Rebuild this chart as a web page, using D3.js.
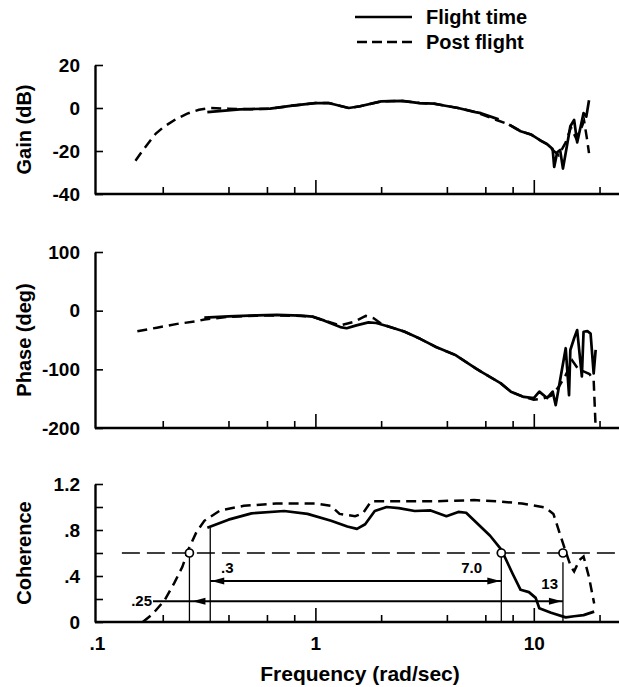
<!DOCTYPE html>
<html>
<head>
<meta charset="utf-8">
<script src="https://cdn.jsdelivr.net/npm/d3@7"></script>
<style>
body{margin:0;background:#fff;}
svg text{font-family:"Liberation Sans",Arial,sans-serif;font-weight:bold;fill:#000;}
</style>
</head>
<body>
<svg id="chart" width="619" height="687"></svg>
<script>
// gain (dB)
const freqGainFlight=[0.32,0.45,0.62,0.8,1.0,1.15,1.42,1.6,2.0,2.5,3.0,3.5,3.76,4.5,5.4,5.73,6.9,7.3,7.7,8.7,9.7,10.8,11.5,12.2,12.4,12.8,13.2,13.6,14.1,14.7,15.3,15.8,16.4,16.9,17.4,17.9];
const gainFlight=[-1.9,-0.6,-0.3,1.2,2.3,2.3,0,0.8,3.1,3.3,2.3,2.0,1.4,0,-1.9,-2.4,-5.3,null,-7.7,-10.8,-12.3,-15.3,-16.8,-19.1,-27.4,-20.6,-19.5,-28.2,-19.1,-8.5,-5.5,-16,-8.5,-2.4,-4,3.6];
const freqGainPost=[0.15,0.16,0.171,0.186,0.202,0.229,0.259,0.293,0.33,0.4,0.5,0.62,0.8,1.0,1.15,1.42,1.6,2.0,2.5,3.0,3.5,4.5,5.4,6.8,7.7,8.7,9.7,10.8,11.5,12.2,13.0,14.0,14.8,15.6,16.4,17.0,17.5,17.9];
const gainPost=[-24.5,-20.5,-16.6,-11.9,-8.8,-5.3,-2.6,-0.8,0,-0.3,-0.6,-0.3,1.2,2.3,2.3,0,0.8,3.1,3.3,2.3,2.0,0,-1.9,-5.7,-7.7,-10.8,-12.3,-15.3,-16.8,-19.5,-22,-16,-9,-14,-10,-6,-14,-21];

// phase (deg)
const freqPhaseFlight=[0.31,0.4,0.54,0.665,0.86,0.97,1.1,1.3,1.39,1.54,1.75,1.9,2.16,2.55,3.02,3.57,4.4,5.4,5.73,6.3,7.07,7.85,9.0,10.0,10.6,11.5,12.2,12.6,13.2,14.0,14.5,14.7,15.3,15.8,16.6,16.9,17.6,18.2,18.8,19.2];
const phaseFlight=[-12,-9.6,-7.9,-7.3,-8.5,-10,-17,-28,-30,-25,-20,-21,-27,-35.5,-48,-62,-76,-98,-104,-113,-124,-138,-147,-149,-138,-149,-138,-161,-118,-64,-144,-67,-47,-33,-112,-36,-35,-39,-107,-67];
const freqPhasePost=[0.153,0.188,0.233,0.287,0.31,0.4,0.54,0.665,0.86,0.97,1.1,1.3,1.5,1.7,1.85,2.0,2.16,2.55,3.02,3.57,4.4,5.4,6.3,7.07,7.85,9.0,10.0,11.0,12.0,13.0,14.0,15.0,16.0,17.0,18.0,18.8,19.2];
const phasePost=[-35,-29,-22.5,-18,-15,-10.5,-8.5,-8,-9,-10.5,-17,-25,-19,-9,-13,-22,-27,-35.5,-48,-62,-76,-98,-113,-124,-138,-147,-152,-150,-145,-130,-110,-85,-100,-104,-108,-118,-200];

// coherence
const freqCohFlight=[0.32,0.4,0.51,0.72,0.92,1.18,1.4,1.55,1.69,1.87,2.12,2.41,2.85,3.37,3.98,4.51,4.9,5.56,6.31,7.1,8.0,8.7,9.5,10.2,10.6,12.0,14.0,15.3,16.9,18.9];
const cohFlight=[0.82,0.89,0.945,0.965,0.94,0.88,0.83,0.81,0.85,0.965,1.0,0.99,0.965,0.97,0.92,0.957,0.95,0.85,0.75,0.63,0.42,0.28,0.26,0.21,0.12,0.08,0.04,0.05,0.06,0.09];
const freqCohPost=[0.162,0.18,0.204,0.226,0.246,0.262,0.285,0.31,0.366,0.47,0.66,1.0,1.18,1.29,1.52,1.65,1.8,2.31,3.51,5.33,6.85,8.83,11.3,12.3,13.1,13.9,14.8,15.3,16.2,16.9,17.9,18.9];
const cohPost=[0,0.07,0.19,0.34,0.48,0.63,0.78,0.88,0.97,1.01,1.03,1.03,1.01,0.94,0.92,0.945,1.05,1.05,1.05,1.06,1.05,1.03,0.995,0.94,0.78,0.63,0.48,0.44,0.54,0.57,0.39,0.16];

// bandwidth markers
const cohLevel=0.6;
const markFreqs=[0.265,0.33,7.1,13.6];
const markLabels=[".25",".3","7.0","13"];

const xMinorTicks=[0.2,0.4,0.6,0.8,2,4,6,8,20];
const xMajorTicks=[1,10];
const xLabels=[0.1,1,10];

const svg=d3.select('#chart');
const x=d3.scaleLog().domain([0.1,25]).range([97,620.7]);
const left=95;

const panels=[
  {title:'Gain (dB)',dom:[-40,20],rng:[194,65],ticks:[-40,-20,0,20],labels:[-40,-20,0,20],
   fx1:freqGainFlight,y1:gainFlight,fx2:freqGainPost,y2:gainPost},
  {title:'Phase (deg)',dom:[-200,100],rng:[428,252],ticks:[-200,-100,0,100],labels:[-200,-100,0,100],
   fx1:freqPhaseFlight,y1:phaseFlight,fx2:freqPhasePost,y2:phasePost},
  {title:'Coherence',dom:[0,1.2],rng:[622,484],ticks:[0,0.2,0.4,0.6,0.8,1.0,1.2],labels:[0,0.4,0.8,1.2],
   fx1:freqCohFlight,y1:cohFlight,fx2:freqCohPost,y2:cohPost}
];

function fmt(d){
  if(d===0) return '0';
  if(Math.abs(d)<1) return String(d).replace('0.','.');
  return String(d);
}

panels.forEach(function(p,i){
  const y=d3.scaleLinear().domain(p.dom).range(p.rng);
  p.y=y;
  const bottom=p.rng[0];

  // x axis line + ticks pointing up
  svg.append('line').attr('x1',left).attr('x2',619).attr('y1',bottom).attr('y2',bottom)
    .attr('stroke','#000').attr('stroke-width',2.4);
  svg.append('g').attr('transform','translate(0,'+bottom+')')
    .call(d3.axisBottom(x).tickValues(xMinorTicks).tickSize(-7).tickSizeOuter(0).tickFormat(''))
    .call(g=>g.select('.domain').remove())
    .selectAll('line').attr('stroke-width',1.6);
  svg.append('g').attr('transform','translate(0,'+bottom+')')
    .call(d3.axisBottom(x).tickValues(xMajorTicks).tickSize(-14).tickSizeOuter(0).tickFormat(''))
    .call(g=>g.select('.domain').remove())
    .selectAll('line').attr('stroke-width',1.6);

  // y axis, ticks inward
  const ya=svg.append('g').attr('transform','translate('+left+',0)')
    .call(d3.axisLeft(y).tickValues(p.ticks).tickSize(-8).tickSizeOuter(0).tickPadding(15)
      .tickFormat(d=>p.labels.indexOf(d)>=0?fmt(d):''));
  ya.select('.domain').attr('stroke-width',2.4);
  ya.selectAll('line').attr('stroke-width',1.6);
  ya.selectAll('text').style('font-size','19px');

  svg.append('text').attr('transform','translate(31,'+((p.rng[0]+p.rng[1])/2)+') rotate(-90)')
    .attr('text-anchor','middle').style('font-size','20px').text(p.title);

  const line=d3.line().defined(d=>d[1]!==null).x(d=>x(d[0])).y(d=>y(d[1]));
  svg.append('path').datum(p.fx2.map((f,k)=>[f,p.y2[k]]))
    .attr('d',line).attr('fill','none').attr('stroke','#000').attr('stroke-width',2.5)
    .attr('stroke-dasharray','10,6');
  svg.append('path').datum(p.fx1.map((f,k)=>[f,p.y1[k]]))
    .attr('d',line).attr('fill','none').attr('stroke','#000').attr('stroke-width',2.7)
    .attr('stroke-linejoin','round');
});

// x labels on bottom panel
const coh=panels[2].y;
svg.append('g').attr('transform','translate(0,622)')
  .call(d3.axisBottom(x).tickValues(xLabels).tickSize(0).tickPadding(15)
    .tickFormat(d=>d===0.1?'.1':String(d)))
  .call(g=>g.select('.domain').remove())
  .selectAll('text').style('font-size','19px');
svg.append('text').attr('x',360).attr('y',681).attr('text-anchor','middle')
  .style('font-size','21px').text('Frequency (rad/sec)');

// coherence threshold line
svg.append('line').attr('x1',x(0.13)).attr('x2',619).attr('y1',coh(cohLevel)).attr('y2',coh(cohLevel))
  .attr('stroke','#000').attr('stroke-width',1.7).attr('stroke-dasharray','18,7');

// drop lines
const dropTop=[cohLevel,0.82,cohLevel,0.52];
markFreqs.forEach(function(f,i){
  svg.append('line').attr('x1',x(f)).attr('x2',x(f)).attr('y1',coh(dropTop[i])).attr('y2',622)
    .attr('stroke','#000').attr('stroke-width',1.3);
});
[0,2,3].forEach(function(i){
  svg.append('circle').attr('cx',x(markFreqs[i])).attr('cy',coh(cohLevel)).attr('r',4)
    .attr('fill','#fff').attr('stroke','#000').attr('stroke-width',1.7);
});

function arrowHead(xt,yt,dir){
  svg.append('path').attr('d','M'+xt+','+yt+'L'+(xt-dir*13)+','+(yt-3.5)+'L'+(xt-dir*13)+','+(yt+3.5)+'Z')
    .attr('fill','#000');
}
// .3 to 7.0 span
const yA=coh(0.357);
svg.append('line').attr('x1',x(markFreqs[1])).attr('x2',x(markFreqs[2])).attr('y1',yA).attr('y2',yA)
  .attr('stroke','#000').attr('stroke-width',1.9);
arrowHead(x(markFreqs[1])+1,yA,-1);
arrowHead(x(markFreqs[2])-1,yA,1);
// .25 to 13 span
const yB=coh(0.18);
svg.append('line').attr('x1',153).attr('x2',x(markFreqs[3])).attr('y1',yB).attr('y2',yB)
  .attr('stroke','#000').attr('stroke-width',1.9);
arrowHead(x(markFreqs[0])+3,yB,-1);
arrowHead(x(markFreqs[3])-1,yB,1);

// span labels
svg.append('text').attr('x',152).attr('y',yB+5).attr('text-anchor','end').style('font-size','15px').text(markLabels[0]);
svg.append('text').attr('x',221).attr('y',yA-8).style('font-size','15px').text(markLabels[1]);
svg.append('text').attr('x',482).attr('y',yA-8).attr('text-anchor','end').style('font-size','15px').text(markLabels[2]);
svg.append('text').attr('x',558).attr('y',yB-12).attr('text-anchor','end').style('font-size','15px').text(markLabels[3]);

// legend
svg.append('line').attr('x1',355).attr('x2',412).attr('y1',17).attr('y2',17).attr('stroke','#000').attr('stroke-width',2.6);
svg.append('text').attr('x',426).attr('y',17).attr('dy','0.35em').style('font-size','20px').text('Flight time');
svg.append('line').attr('x1',357).attr('x2',412).attr('y1',42).attr('y2',42).attr('stroke','#000').attr('stroke-width',2.6)
  .attr('stroke-dasharray','10,5');
svg.append('text').attr('x',426).attr('y',42).attr('dy','0.35em').style('font-size','20px').text('Post flight');
</script>
</body>
</html>
